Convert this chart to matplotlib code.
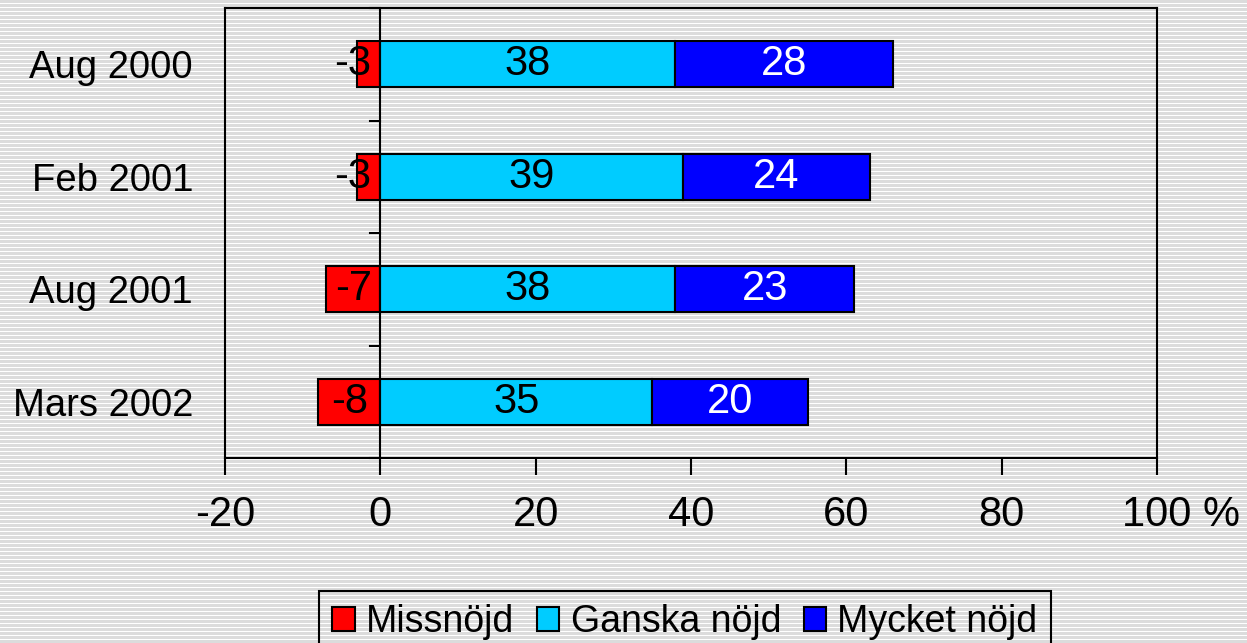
import numpy as np
import matplotlib.pyplot as plt
import matplotlib.transforms as mtransforms

# data
periods = ['Aug 2000', 'Feb 2001', 'Aug 2001', 'Mars 2002']
missnojd = [-3, -3, -7, -8]
ganska = [38, 39, 38, 35]
mycket = [28, 24, 23, 20]
xticks = [-20, 0, 20, 40, 60, 80, 100]
xlabels = ['-20', '0', '20', '40', '60', '80', '100 %']

plt.rcParams['font.family'] = ['Liberation Sans', 'DejaVu Sans']

W, H = 1247, 643
fig = plt.figure(figsize=(W / 100, H / 100), dpi=100)

# striped background
bg = np.full((H, W, 3), 220, dtype=np.uint8)
bg[3::4, :, :] = 255
fig.figimage(bg, 0, 0, origin='upper', zorder=-10)
fig.patch.set_alpha(0)

ax = fig.add_axes([225 / W, 1 - 458 / H, (1157 - 225) / W, (458 - 8) / H])
ax.set_facecolor('none')

y = np.arange(len(periods))[::-1]
h = 0.41
kw = dict(height=h, edgecolor='black', linewidth=1.5, zorder=3)
b1 = ax.barh(y, missnojd, color='#ff0000', label='Missnöjd', **kw)
b2 = ax.barh(y, ganska, color='#00ccff', label='Ganska nöjd', **kw)
b3 = ax.barh(y, mycket, left=ganska, color='#0000ff', label='Mycket nöjd', **kw)

# red labels: centred, but nudged left when the bar is too narrow
for yy, v in zip(y, missnojd):
    dx = -16 if abs(v) < 5 else 0
    ax.annotate(str(v), (v / 2, yy), xytext=(dx, 0), textcoords='offset pixels',
                ha='center', va='center', fontsize=30, color='black', zorder=5)
ax.bar_label(b2, labels=[str(v) for v in ganska], label_type='center',
             fontsize=30, color='black', zorder=5)
ax.bar_label(b3, labels=[str(v) for v in mycket], label_type='center',
             fontsize=30, color='white', zorder=5)

ax.set_xlim(-20, 100)
ax.set_ylim(-0.5, len(periods) - 0.5)
ax.set_xticks(xticks)
ax.set_xticklabels(xlabels, fontsize=30)
ax.set_yticks(y)
ax.set_yticklabels(periods, fontsize=27.5)
ax.tick_params(axis='y', length=0, pad=23)
ax.tick_params(axis='x', direction='out', length=12, width=1.5, pad=15)

# "100" centred on its tick, the "%" hanging to the right
last = ax.get_xticklabels()[-1]
last.set_transform(last.get_transform() +
                   mtransforms.ScaledTranslation(0.24, 0, fig.dpi_scale_trans))

for s in ax.spines.values():
    s.set_linewidth(1.5)

# category axis at zero with separator ticks
ax.axvline(0, color='black', linewidth=1.5, zorder=4)
for yy in np.arange(-0.5, len(periods), 1.0):
    ax.plot([-1.3, 0], [yy, yy], color='black', linewidth=1.5, zorder=4,
            clip_on=False)

leg = ax.legend(loc='upper center', bbox_to_anchor=(685 / W, 1 - 591 / H),
                bbox_transform=fig.transFigure, ncol=3, frameon=True,
                fancybox=False, edgecolor='black', framealpha=1,
                prop={'size': 27},
                handlelength=0.6, handleheight=0.6, handletextpad=0.3,
                columnspacing=0.6, borderpad=0.35, borderaxespad=0)
leg.get_frame().set_linewidth(1.5)
leg.get_frame().set_facecolor('none')

fig.savefig('out.png', dpi=100)
